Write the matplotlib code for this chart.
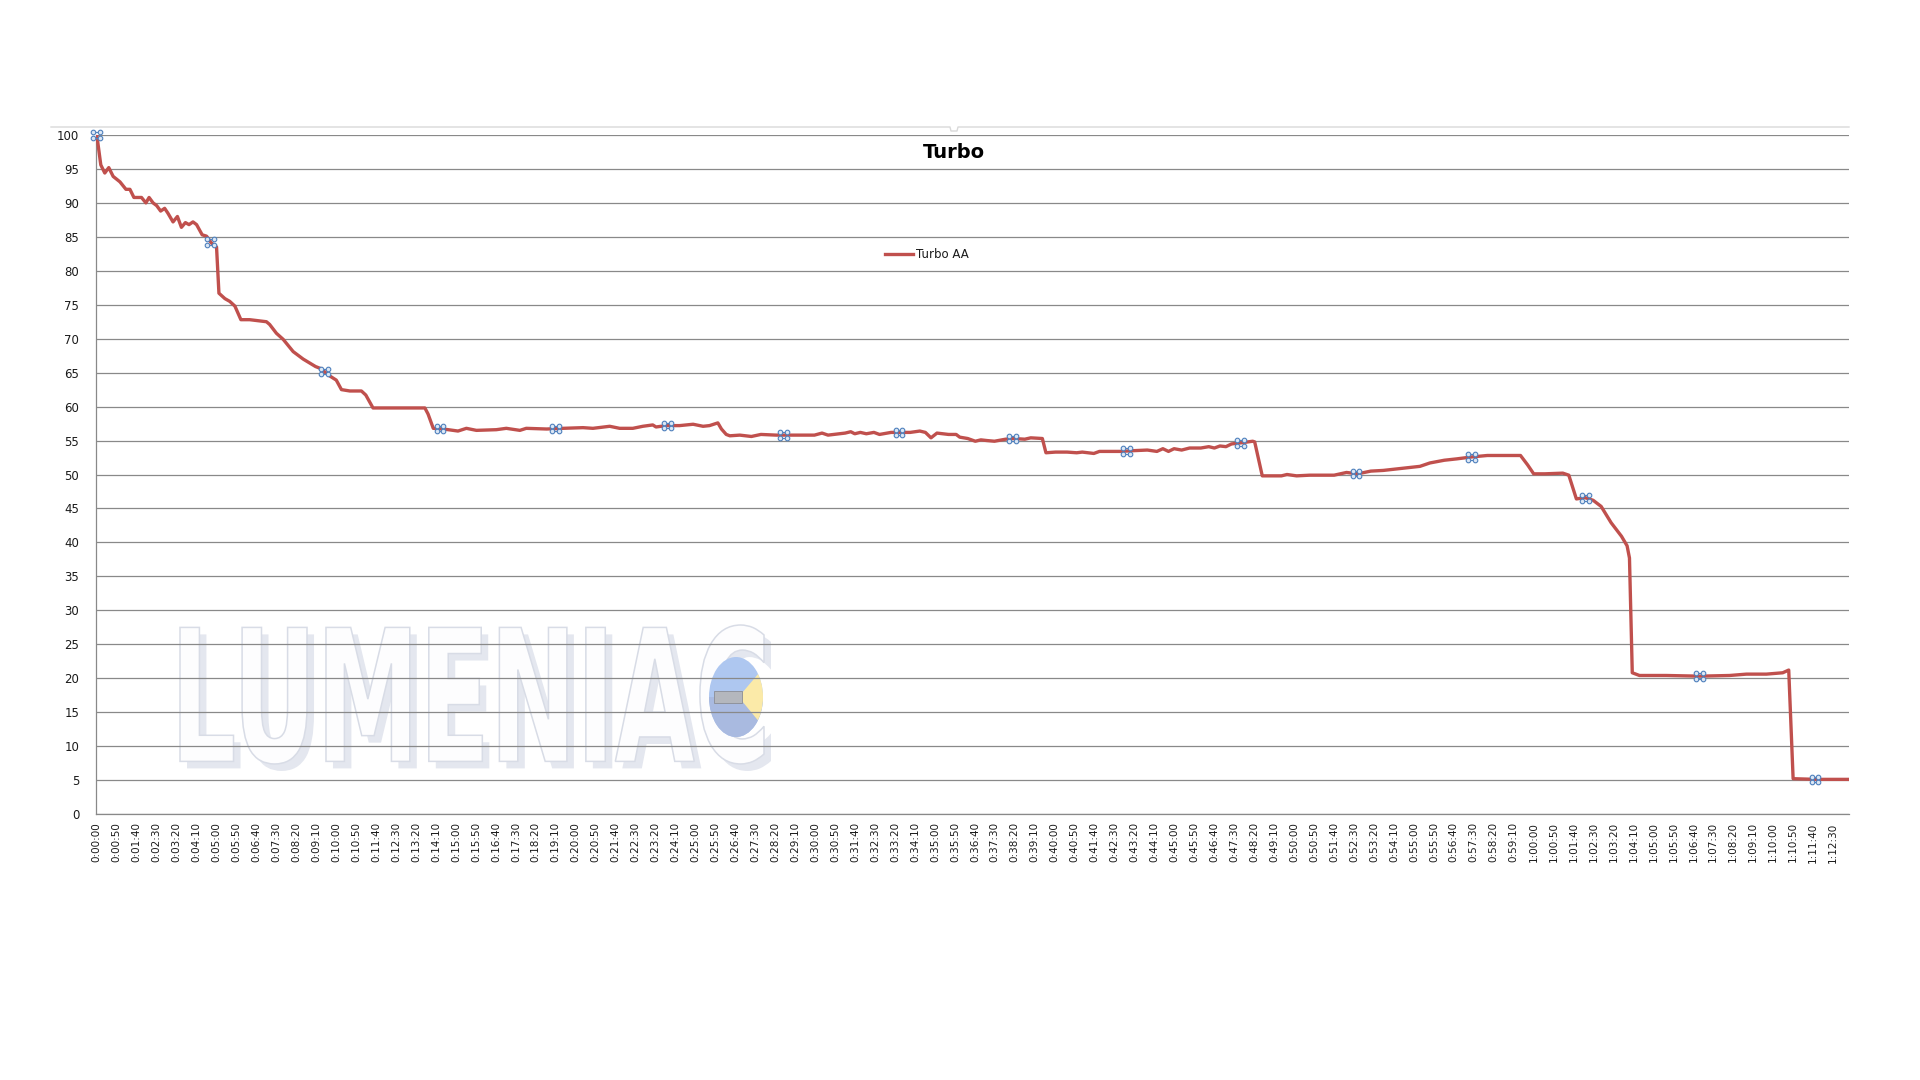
import numpy as np
import matplotlib
matplotlib.use("Agg")
import matplotlib.pyplot as plt
from matplotlib import transforms
from matplotlib.lines import Line2D
from matplotlib.patches import PathPatch, Ellipse, Polygon, Rectangle
from matplotlib.textpath import TextPath
from matplotlib.font_manager import FontProperties
from matplotlib.ticker import FuncFormatter, MultipleLocator

title = "Turbo"
series_name = "Turbo AA"
watermark_text = "LUMENIAC"

# elapsed time in seconds, battery/output level
time_s = [0, 10, 20, 30, 41, 58, 73, 83, 93, 112, 123, 131, 141, 150, 160, 170,
          178, 191, 202, 212, 222, 231, 241, 250, 264, 275, 287, 300, 306, 321,
          333, 346, 361, 383, 425, 433, 450, 467, 492, 517, 548, 561, 584, 600,
          613, 634, 663, 674, 692, 751, 822, 830, 843, 868, 905, 926, 951, 1001,
          1026, 1060, 1076, 1127, 1168, 1218, 1243, 1285, 1310, 1343, 1368, 1393,
          1401, 1427, 1460, 1494, 1519, 1535, 1556, 1565, 1577, 1586, 1611, 1640,
          1664, 1702, 1798, 1817, 1832, 1875, 1889, 1899, 1913, 1928, 1947, 1961,
          1990, 2038, 2062, 2076, 2090, 2105, 2134, 2153, 2162, 2182, 2201, 2215,
          2230, 2249, 2277, 2297, 2325, 2340, 2369, 2378, 2402, 2431, 2455, 2469,
          2498, 2512, 2565, 2594, 2632, 2656, 2671, 2685, 2699, 2718, 2738, 2766,
          2786, 2800, 2814, 2829, 2843, 2872, 2896, 2901, 2920, 2968, 2982, 3006,
          3039, 3100, 3131, 3159, 3192, 3223, 3254, 3284, 3315, 3340, 3376, 3407,
          3447, 3484, 3530, 3567, 3585, 3600, 3628, 3673, 3688, 3707, 3728, 3749,
          3769, 3794, 3820, 3834, 3840, 3847, 3865, 3932, 4016, 4091, 4133, 4183,
          4224, 4239, 4250, 4308, 4389]
level = [100, 95.6, 94.4, 95.2, 93.9, 93.1, 92.0, 92.0, 90.8, 90.8, 90.0, 90.8,
         90.0, 89.6, 88.8, 89.2, 88.5, 87.2, 88.0, 86.4, 87.1, 86.8, 87.2, 86.8,
         85.3, 85.1, 84.1, 83.5, 76.7, 75.9, 75.5, 74.8, 72.8, 72.8, 72.5, 72.1,
         70.8, 69.9, 68.1, 67.0, 65.9, 65.6, 64.5, 63.9, 62.5, 62.3, 62.3, 61.7,
         59.8, 59.8, 59.8, 58.9, 56.8, 56.7, 56.4, 56.8, 56.5, 56.6, 56.8, 56.5,
         56.8, 56.7, 56.8, 56.9, 56.8, 57.1, 56.8, 56.8, 57.1, 57.3, 57.0, 57.2,
         57.2, 57.4, 57.1, 57.2, 57.6, 56.7, 55.9, 55.7, 55.8, 55.6, 55.9, 55.8,
         55.8, 56.1, 55.8, 56.1, 56.3, 56.0, 56.2, 56.0, 56.2, 55.9, 56.2, 56.2,
         56.4, 56.2, 55.4, 56.1, 55.9, 55.9, 55.5, 55.3, 54.9, 55.1, 55.0, 54.9,
         55.2, 55.3, 55.2, 55.4, 55.3, 53.2, 53.3, 53.3, 53.2, 53.3, 53.1, 53.4,
         53.4, 53.5, 53.6, 53.4, 53.8, 53.4, 53.8, 53.6, 53.9, 53.9, 54.1, 53.9,
         54.2, 54.1, 54.5, 54.7, 54.9, 54.8, 49.8, 49.8, 50.0, 49.8, 49.9, 49.9,
         50.3, 50.1, 50.5, 50.6, 50.8, 51.0, 51.2, 51.7, 52.1, 52.3, 52.6, 52.8,
         52.8, 52.8, 51.4, 50.1, 50.1, 50.2, 49.9, 46.4, 46.6, 46.2, 45.3, 42.9,
         40.9, 39.5, 37.7, 20.8, 20.4, 20.4, 20.3, 20.4, 20.6, 20.6, 20.8, 21.2,
         5.2, 5.1, 5.1]

# times where the little selection handles sit on the line
handle_times = [0, 285, 570, 860, 1150, 1430, 1720, 2010, 2295, 2580, 2865,
                3155, 3445, 3730, 4015, 4305]

y_ticks = list(range(0, 101, 5))
x_tick_step = 50
x_end = 4390

RED = "#c0504d"
GRID = "#898989"
HANDLE = "#4f81bd"


def hms(sec, pos=None):
    sec = int(round(sec))
    return f"{sec // 3600}:{sec % 3600 // 60:02d}:{sec % 60:02d}"


def px(x, y):
    """image pixel (top-left origin) -> figure fraction"""
    return x / 1920, 1 - y / 1080


fig = plt.figure(figsize=(19.2, 10.8), dpi=100)
ax = fig.add_axes([96 / 1920, 1 - 814 / 1080, 1753 / 1920, 679 / 1080])

ax.plot(time_s, level, color=RED, lw=2.4, zorder=3, solid_joinstyle="round")

ax.set_xlim(-2, x_end)
ax.set_ylim(0, 100)
ax.set_yticks(y_ticks)
ax.xaxis.set_major_locator(MultipleLocator(x_tick_step))
ax.xaxis.set_major_formatter(FuncFormatter(hms))
ax.tick_params(axis="y", length=0, pad=12, labelsize=8.5, labelcolor="#1a1a1a")
ax.tick_params(axis="x", length=0, pad=6, labelsize=7.5, labelcolor="#1a1a1a",
               labelrotation=90)
for lab in ax.get_xticklabels():
    lab.set_verticalalignment("top")

ax.set_axisbelow(True)
ax.grid(axis="y", color=GRID, lw=0.9)
ax.grid(axis="x", visible=False)
for side in ("top", "right"):
    ax.spines[side].set_visible(False)
for side in ("left", "bottom"):
    ax.spines[side].set_color(GRID)
    ax.spines[side].set_linewidth(0.9)

# selection handles: two pairs of small circles joined by a short bar
hx = np.array(handle_times, dtype=float)
hy = np.interp(hx, time_s, level)
for dy in (-2.7, 2.7):
    tr = transforms.offset_copy(ax.transData, fig=fig, x=0, y=dy, units="dots")
    ax.plot(hx, hy, ls="none", marker="_", ms=4.8, mec=HANDLE, mew=0.8,
            transform=tr, zorder=4, clip_on=False)
for dx in (-3.4, 3.4):
    for dy in (-2.7, 2.7):
        tr = transforms.offset_copy(ax.transData, fig=fig, x=dx, y=dy, units="dots")
        ax.plot(hx, hy, ls="none", marker="o", ms=3.3, mfc="#dce7f5", mec=HANDLE,
                mew=0.8, transform=tr, zorder=5, clip_on=False)

# faint LUMENIAC watermark, drawn in pixel space behind the grid
H = fig.bbox.height
fp = FontProperties(family="DejaVu Sans", weight="bold")
tp = TextPath((0, 0), watermark_text, size=100, prop=fp)
ext = tp.get_extents()
x0, y0, x1, y1 = 180, 625, 764, 764
base = (transforms.Affine2D().translate(-ext.x0, -ext.y0)
        .scale((x1 - x0) / ext.width, (y1 - y0) / ext.height)
        .translate(x0, H - y1))
shadow = PathPatch(tp, transform=base + transforms.Affine2D().translate(7, -7),
                   fc="#e4e7ef", ec="none", zorder=0.2)
front = PathPatch(tp, transform=base, fc="#fdfdfe", ec="#d8dce6", lw=1.1, zorder=0.3)
ax.add_patch(shadow)
ax.add_patch(front)

logo = Ellipse((736, H - 697), 54, 80, transform=transforms.IdentityTransform(),
               fc="#aec7f0", ec="none", zorder=0.35)
ax.add_patch(logo)
lower = Rectangle((700, H - 740), 80, 43, transform=transforms.IdentityTransform(),
                  fc="#a9bae0", ec="none", zorder=0.36)
ax.add_patch(lower)
lower.set_clip_path(logo)
beam = Polygon([(742, H - 693), (770, H - 660), (770, H - 735), (742, H - 701)],
               closed=True, transform=transforms.IdentityTransform(),
               fc="#fbeaa8", ec="none", zorder=0.37)
ax.add_patch(beam)
beam.set_clip_path(logo)
body = Rectangle((714, H - 703), 28, 12, transform=transforms.IdentityTransform(),
                 fc="#b4b7bd", ec="#8b8e95", lw=0.6, zorder=0.38)
ax.add_patch(body)

# chart-area top border with the small notch
bx = [51, 950, 951, 957, 958, 1849]
by = [127, 127, 131, 131, 127, 127]
fig.add_artist(Line2D([x / 1920 for x in bx], [1 - y / 1080 for y in by],
                      color="#d9d9d9", lw=1, transform=fig.transFigure))

# title and legend
tx, ty = px(954, 152)
fig.text(tx, ty, title, ha="center", va="center", fontsize=14, fontweight="bold")
lx0, ly = px(885, 254)
lx1, _ = px(913, 254)
fig.add_artist(Line2D([lx0, lx1], [ly, ly], color=RED, lw=2.4,
                      transform=fig.transFigure))
ltx, _ = px(916, 254)
fig.text(ltx, ly, series_name, ha="left", va="center", fontsize=8.5, color="#1a1a1a")

fig.savefig("out.png", dpi=100)
